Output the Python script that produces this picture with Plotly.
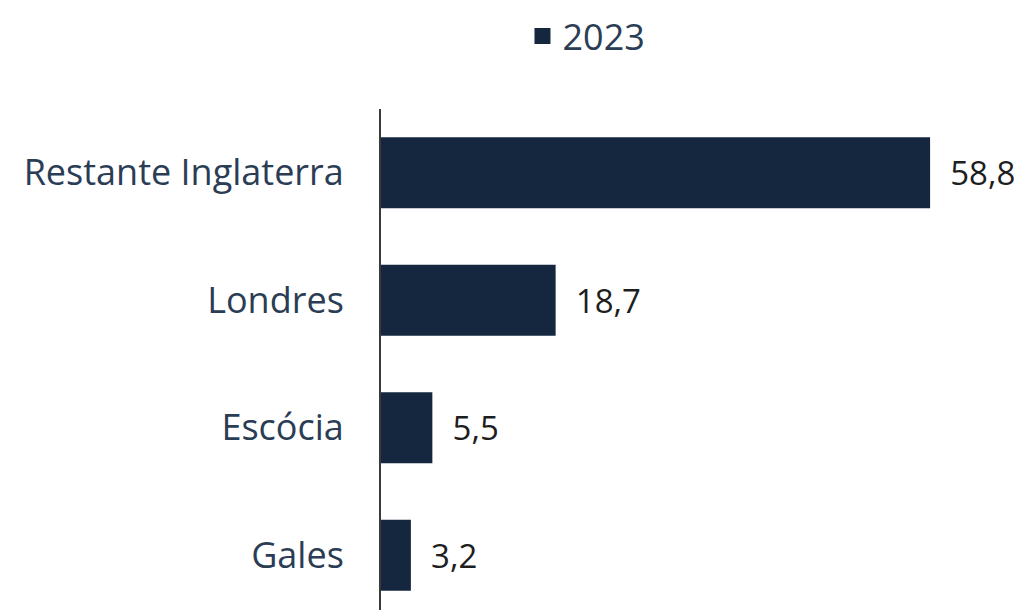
import plotly.graph_objects as go

categories = ["Gales", "Escócia", "Londres", "Restante Inglaterra"]
values = [3.2, 5.5, 18.7, 58.8]
series_name = "2023"

bar_color = "#14273e"
label_color = "#2b3d55"

fig = go.Figure()
fig.add_trace(go.Bar(
    y=categories, x=values, orientation="h", name=series_name,
    marker=dict(color=bar_color, line=dict(width=0)),
    texttemplate="  %{x:.1f}", textposition="outside",
    textfont=dict(family="Open Sans", size=33, color="#1e1e1e"),
    cliponaxis=False, showlegend=False,
))
# legend entry (same series, legend-only marker)
fig.add_trace(go.Scatter(
    x=[None], y=[None], mode="markers", name=series_name,
    marker=dict(symbol="square", size=25, color=bar_color),
    showlegend=True, hoverinfo="skip",
))

fig.update_layout(
    width=1014, height=602,
    margin=dict(l=373, r=6, t=101, b=0),
    paper_bgcolor="white", plot_bgcolor="white",
    separators=", ",
    bargap=0.443,
    font=dict(family="Open Sans", size=36, color=label_color),
    showlegend=True,
    legend=dict(
        orientation="h", xref="container", yref="container",
        x=0.5705, xanchor="center", y=0.9535, yanchor="middle",
        font=dict(family="Open Sans", size=36, color=label_color),
        itemwidth=30, itemsizing="trace", bgcolor="rgba(0,0,0,0)",
    ),
    xaxis=dict(range=[0, 68], visible=False, showgrid=False, zeroline=False),
    yaxis=dict(
        type="category",
        range=[-0.43, 3.5], showgrid=False, zeroline=False,
        showline=True, linecolor="#3a3a3a", linewidth=2,
        ticks="", ticklabelstandoff=28,
        tickfont=dict(family="Open Sans", size=36, color=label_color),
    ),
)

fig.write_html("out.html")
